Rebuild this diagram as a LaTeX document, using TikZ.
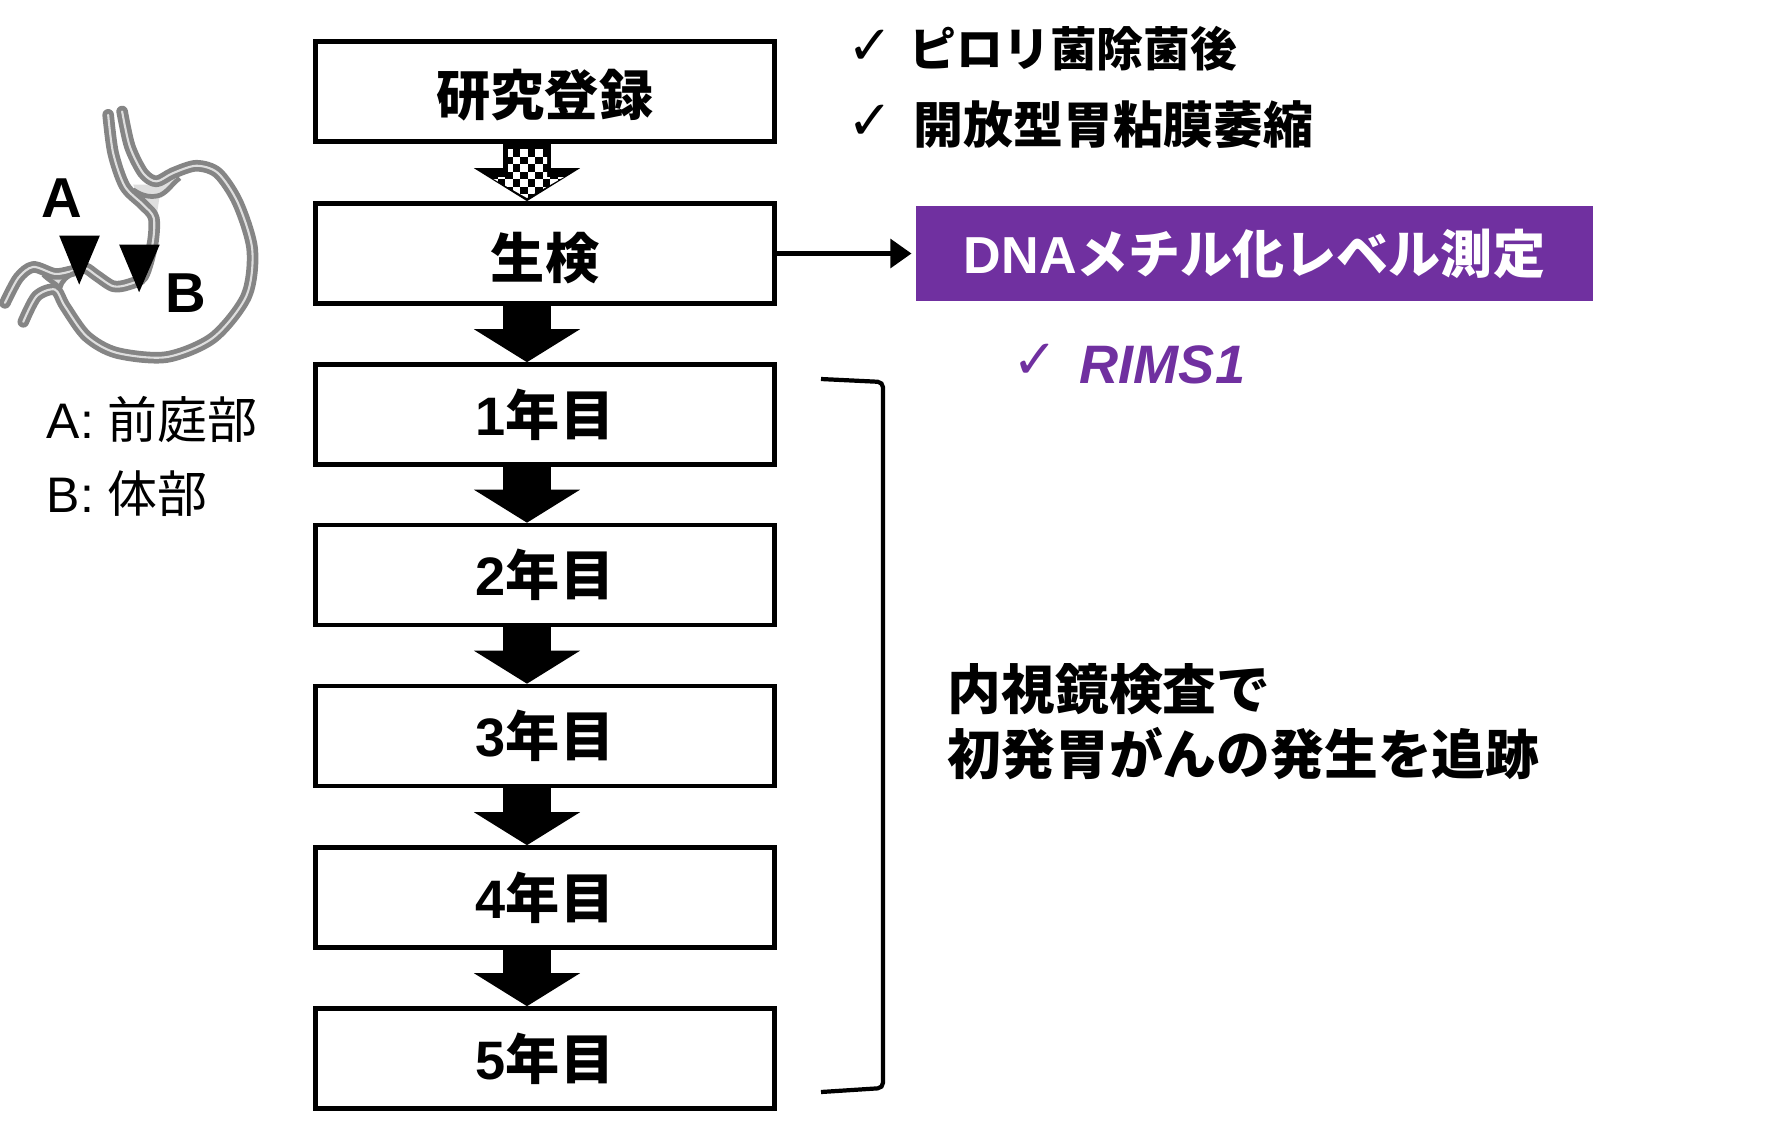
\documentclass[tikz,border=0pt]{standalone}
\usepackage{fontspec}
\setmainfont{Liberation Sans}
\newfontfamily\cjk{Noto Sans CJK JP}
\newfontfamily\checkfont{DejaVu Sans}
\usepackage{xcolor}
\usetikzlibrary{arrows.meta}
\definecolor{methpurple}{HTML}{7030A0}
\definecolor{wallgray}{HTML}{858585}
\definecolor{walllight}{HTML}{DEDEDE}
\tikzset{
  flowbox/.style={draw=black, line width=1.3pt, fill=white, minimum width=4.59cm, minimum height=1cm, inner sep=0pt},
  flowarrow/.style={line width=13.7pt, -{Triangle[length=9.4pt, width=29.8pt]}},
  wall/.style={draw=wallgray, line width=1.35pt, double=walllight, double distance=0.6pt, line cap=round, line join=round},
  marker/.style={fill=black},
  boxtext/.style={font=\cjk\bfseries\fontsize{15.4pt}{18pt}\selectfont, execute at begin node={\rule{0pt}{15.5pt}}},
  yeartext/.style={font=\bfseries\fontsize{15.4pt}{18pt}\selectfont},
  note/.style={anchor=west, inner sep=0pt, font=\cjk\bfseries\fontsize{15.3pt}{18.5pt}\selectfont},
  check/.style={anchor=center, inner sep=0pt, font=\checkfont\fontsize{15.5pt}{17pt}\selectfont},
}
\begin{document}
\begin{tikzpicture}[x=0.01cm, y=-0.01cm]
    \useasboundingbox (0,0) rectangle (1768,1126);

    % Flow boxes
    \node[flowbox, boxtext] (reg) at (545,91.5) {研究登録};
    \node[flowbox, boxtext] (biopsy) at (545,253.5) {生検};
    \foreach \n/\ypos in {1/414.5, 2/575, 3/736, 4/897.5, 5/1058.5} {
        \node[flowbox, yeartext] (y\n) at (545,\ypos) {\n{\cjk 年目}};
    }

    % Flow arrows
    \draw[flowarrow] ([xshift=-0.18cm]reg.south) -- ([xshift=-0.18cm]biopsy.north);
    \draw[flowarrow] ([xshift=-0.18cm]biopsy.south) -- ([xshift=-0.18cm]y1.north);
    \foreach \a/\b in {1/2, 2/3, 3/4, 4/5} {
        \draw[flowarrow] ([xshift=-0.18cm]y\a.south) -- ([xshift=-0.18cm]y\b.north);
    }

    % Checker squares on the first arrow
    \begin{scope}
        \clip (508,149) -- (547,149) -- (547,177) -- (564,177) -- (527,198) -- (490,177) -- (508,177) -- cycle;
        \foreach \k in {0,...,10} {
            \foreach \j in {0,...,7} {
                \pgfmathparse{int(mod(\k+\j,2))}
                \ifnum\pgfmathresult=0
                    \fill[white] (490+7.5*\k,149+7.5*\j) rectangle (497.5+7.5*\k,156.5+7.5*\j);
                \fi
            }
        }
    \end{scope}

    % Measurement box
    \node[fill=methpurple, text=white, minimum width=6.77cm, minimum height=0.95cm, inner sep=0pt, font=\bfseries\fontsize{14.8pt}{18pt}\selectfont] (dna) at (1254.5,253.5) {DNA{\cjk メチル化レベル測定}};
    \draw[line width=1.6pt, -{Triangle[length=6pt, width=8pt]}, shorten >=1pt] (biopsy.east) -- (dna.west);

    % Notes at the top
    \node[check] (c1) at (870,47) {✓};
    \node[note, font=\cjk\bfseries\fontsize{13.3pt}{16pt}\selectfont] (n1) at (909,49) {ピロリ菌除菌後};
    \node[check] (c2) at (870,122) {✓};
    \node[note, font=\cjk\bfseries\fontsize{14.2pt}{16pt}\selectfont] (n2) at (913,125) {開放型胃粘膜萎縮};

    % Gene
    \node[check, text=methpurple] (c3) at (1035,361) {✓};
    \node[anchor=west, inner sep=0pt, text=methpurple, font=\bfseries\itshape\fontsize{15.4pt}{18pt}\selectfont] (gene) at (1079,365) {RIMS1};

    % Bracket
    \coordinate (brtop) at (821,379);
    \coordinate (brbot) at (821,1092);
    \draw[line width=1.2pt, rounded corners=1.5pt] (brtop) -- (883,382) -- (883,1088) -- (brbot);
    \node[note, align=left] (follow) at (947,722) {内視鏡検査で\\初発胃がんの発生を追跡};

    % Stomach, traced in zoomed pixels
    \begin{scope}[x=0.00333cm, y=-0.00333cm, shift={(0,270)}]
        \fill[walllight] (400,285) -- (470,285) -- (530,255) -- (510,295) -- (480,318) -- (472,370) -- (450,385) -- cycle;
        \fill[walllight] (130,545) -- (215,530) -- (175,600) -- cycle;
        \draw[wall] plot[smooth] coordinates {(325,75) (340,190) (375,290) (430,345) (462,385) (458,465) (430,560) (385,585) (340,590) (290,558) (255,535) (215,545) (165,553) (100,532) (55,565) (15,640)};
        \draw[wall] plot[smooth] coordinates {(367,65) (390,170) (430,250) (470,275) (520,250) (590,228) (655,250) (715,340) (758,480) (740,620) (640,745) (500,803) (350,790) (260,740) (195,650) (165,600) (110,620) (70,697)};
        \draw[draw=wallgray, line width=1.35pt] (400,300) .. controls (430,322) and (460,324) .. (482,316) .. controls (505,305) and (515,285) .. (540,265);
        \draw[draw=wallgray, line width=1.35pt] (130,555) .. controls (150,575) and (165,580) .. (180,595) .. controls (185,575) and (200,560) .. (225,550);
        \fill[marker] (178,438) -- (300,438) -- (238,585) -- cycle;
        \fill[marker] (358,465) -- (480,465) -- (418,608) -- cycle;
    \end{scope}
    \node[inner sep=0pt, font=\bfseries\fontsize{16pt}{18pt}\selectfont] (labela) at (62,198) {A};
    \node[inner sep=0pt, font=\bfseries\fontsize{16pt}{18pt}\selectfont] (labelb) at (186,293) {B};

    % Legend
    \node[anchor=west, inner sep=0pt, font=\fontsize{14.2pt}{18pt}\selectfont] (lega) at (46,419) {A: {\cjk 前庭部}};
    \node[anchor=west, inner sep=0pt, font=\fontsize{14.2pt}{18pt}\selectfont] (legb) at (46,494) {B: {\cjk 体部}};
\end{tikzpicture}
\end{document}
